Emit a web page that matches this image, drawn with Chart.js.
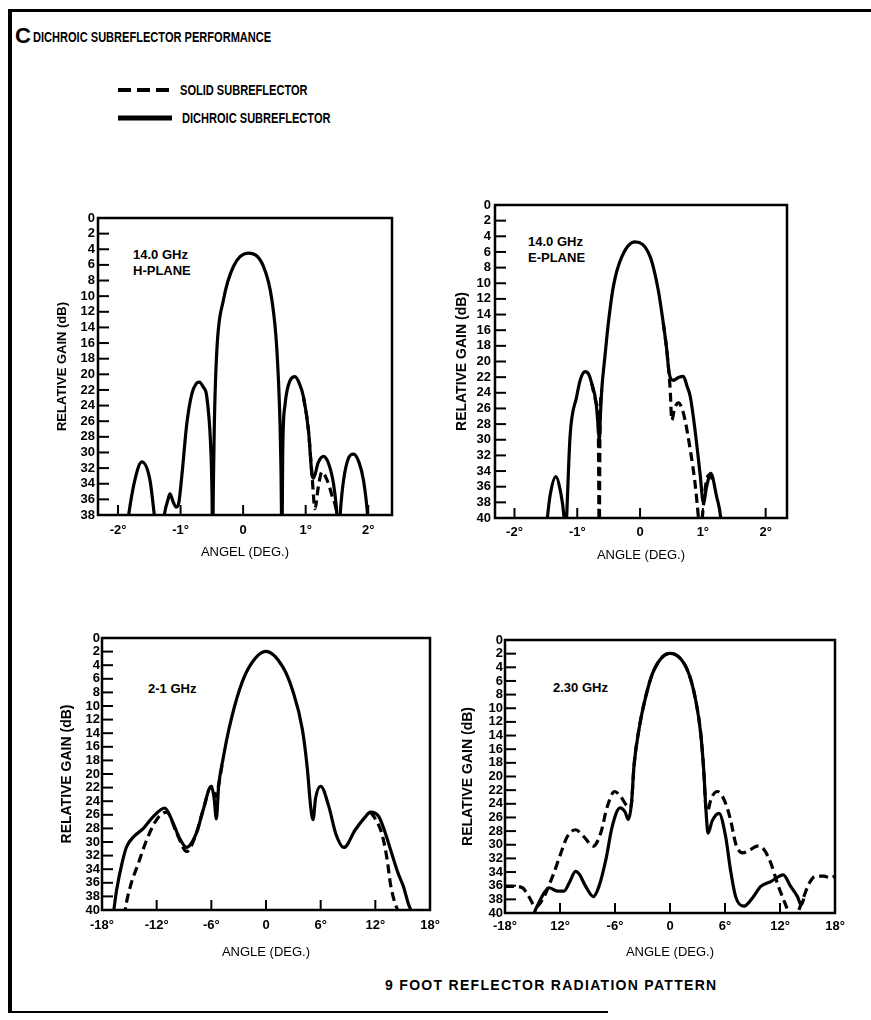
<!DOCTYPE html>
<html>
<head>
<meta charset="utf-8">
<script src="https://cdn.jsdelivr.net/npm/chart.js@4.4.1/dist/chart.umd.min.js"></script>
<style>
  body { margin: 0; background: #fff; }
  #page { position: relative; width: 871px; height: 1020px; overflow: hidden; background: #fff;
          font-family: "Liberation Sans", Arial, sans-serif; color: #000; }
  #page canvas { position: absolute; }
  .txt { position: absolute; white-space: nowrap; font-weight: bold; line-height: 1; transform: translateY(-50%); }
  .narrow { transform-origin: 0 50%; transform: translateY(-50%) scaleX(0.79); }
  .rule { position: absolute; background: #000; }
</style>
</head>
<body>
<div id="page">
  <div class="rule" style="left:8px;top:9px;width:863px;height:3px"></div>
  <div class="rule" style="left:8px;top:9px;width:4px;height:1004px"></div>
  <div class="rule" style="left:8px;top:1011px;width:600px;height:2px"></div>

  <div class="txt" style="left:15px;top:36px;font-size:22px">C</div>
  <div class="txt narrow" style="left:33px;top:37px;font-size:14px">DICHROIC SUBREFLECTOR PERFORMANCE</div>

  <svg style="position:absolute;left:116px;top:80px" width="60" height="45">
    <line x1="2" y1="10" x2="56" y2="10" stroke="#000" stroke-width="4" stroke-dasharray="13 6"/>
    <line x1="2" y1="38" x2="56" y2="38" stroke="#000" stroke-width="5"/>
  </svg>
  <div class="txt narrow" style="left:180px;top:90px;font-size:14px">SOLID SUBREFLECTOR</div>
  <div class="txt narrow" style="left:182px;top:118px;font-size:14px">DICHROIC SUBREFLECTOR</div>

  <div class="txt" style="left:133px;top:254px;font-size:13px">14.0 GHz</div>
  <div class="txt" style="left:133px;top:270px;font-size:13px">H-PLANE</div>
  <div class="txt" style="left:528px;top:241px;font-size:13px">14.0 GHz</div>
  <div class="txt" style="left:528px;top:257px;font-size:13px">E-PLANE</div>
  <div class="txt" style="left:148px;top:688px;font-size:13px">2-1 GHz</div>
  <div class="txt" style="left:553px;top:687px;font-size:13px">2.30 GHz</div>

  <div class="txt" style="left:385px;top:985px;font-size:14px;letter-spacing:1.3px">9 FOOT REFLECTOR RADIATION PATTERN</div>
</div>

<script>
// tick values and labels
const gainTicks38 = [0, 2, 4, 6, 8, 10, 12, 14, 16, 18, 20, 22, 24, 26, 28, 30, 32, 34, 36, 38];
const gainTicks40 = [0, 2, 4, 6, 8, 10, 12, 14, 16, 18, 20, 22, 24, 26, 28, 30, 32, 34, 36, 38, 40];
const narrowTicks = [-2, -1, 0, 1, 2];
const narrowLabels = ["-2°", "-1°", "0", "1°", "2°"];
const wideTicks = [-18, -12, -6, 0, 6, 12, 18];
const wideLabels21 = ["-18°", "-12°", "-6°", "0", "6°", "12°", "18°"];
const wideLabels23 = ["-18°", "12°", "-6°", "0", "6°", "12°", "18°"];

// 14.0 GHz H-plane (angle in deg, relative gain in dB)
const hAngle = [-1.92, -1.83, -1.73, -1.62, -1.49, -1.42, -1.34, -1.26, -1.2, -1.17, -1.12, -1.07, -1.03, -0.98, -0.9, -0.82, -0.75, -0.7, -0.64, -0.58, -0.52, -0.5, -0.487, -0.475, -0.46, -0.42, -0.315, -0.155, 0.08, 0.325, 0.46, 0.54, 0.59, 0.605, 0.62, 0.635, 0.67, 0.75, 0.83, 0.9, 0.965, 1.045, 1.1, 1.125, 1.2, 1.285, 1.37, 1.445, 1.49, 1.525, 1.56, 1.605, 1.68, 1.765, 1.85, 1.925, 1.99, 2.04];
const hDichroic = [44, 38, 33.5, 31.2, 33.5, 38, 44, 38, 36, 35.3, 36.3, 37, 36.5, 33, 26.3, 22.5, 21.2, 21, 21.6, 22.9, 28.9, 34, 41, 34, 26.3, 16.9, 10.5, 6.2, 4.5, 6.2, 10.5, 16.9, 26.3, 32, 41, 29, 23.9, 20.8, 20.3, 21.2, 22.9, 27.2, 32.8, 33.3, 31.3, 30.5, 31.5, 34, 37, 41, 37, 33.6, 30.8, 30.2, 31.2, 33.6, 38, 44];
const hSolidAngle = [0.965, 1.045, 1.1, 1.15, 1.2, 1.26, 1.34, 1.42, 1.5, 1.53];
const hSolid = [22.9, 27.2, 32.8, 37.2, 34.5, 32.5, 33.5, 35.5, 38, 41];

// 14.0 GHz E-plane
const eAngle = [-1.52, -1.476, -1.43, -1.34, -1.27, -1.21, -1.19, -1.17, -1.115, -1.01, -0.95, -0.876, -0.82, -0.77, -0.7, -0.665, -0.648, -0.632, -0.61, -0.56, -0.505, -0.425, -0.29, -0.08, 0.16, 0.29, 0.37, 0.425, 0.46, 0.53, 0.62, 0.69, 0.75, 0.8, 0.876, 0.955, 1.01, 1.06, 1.125, 1.22, 1.285, 1.32];
const eDichroic = [44, 40, 37, 34.7, 36.5, 40, 43, 40, 29.6, 24.5, 22.3, 21.3, 21.6, 22.8, 25.3, 28.5, 30, 27, 23.6, 19.4, 15.1, 10.4, 6.6, 4.7, 6.6, 10.9, 15.1, 18.5, 21.3, 22.4, 22.0, 21.9, 23.2, 24.5, 28.8, 34.3, 38.1, 36, 34.3, 37.3, 40, 44];
const eSolidAngle = [-0.77, -0.7, -0.665, -0.65, -0.638, -0.61, -0.5, 0.37, 0.425, 0.48, 0.505, 0.55, 0.61, 0.69, 0.8, 0.876, 0.93, 0.96, 0.99, 1.06, 1.11, 1.16];
const eSolid = [22.8, 25.3, 28.5, 43, 28, 23.6, null, 15.1, 18.5, 23.6, 27.5, 26, 25.3, 26.6, 31.3, 35.6, 40, 43, 40, 35.1, 34.5, 35.2];

// 2-1 GHz
const w21Angle = [-16.9, -16.7, -16.4, -15.8, -15.3, -14.5, -13.45, -12.4, -11.1, -10.2, -9.5, -8.73, -7.64, -6.9, -6.0, -5.7, -5.45, -5.2, -4.73, -4.0, -2.91, -1.82, 0, 1.82, 2.9, 4.0, 4.55, 4.9, 5.16, 5.45, 6.0, 6.9, 7.64, 8.55, 9.8, 10.9, 11.45, 12.4, 13.1, 13.8, 14.5, 15.1, 15.6, 16.0, 16.3];
const w21Dichroic = [42, 40, 37.1, 33.1, 30.7, 29.2, 28.0, 26.3, 25.0, 27.2, 29.4, 30.8, 28.7, 25.3, 21.8, 23.5, 26.6, 21.8, 17.9, 13.0, 7.6, 4.2, 1.96, 4.2, 7.6, 13.5, 19.4, 24.8, 26.7, 23.5, 21.8, 24.8, 28.7, 30.8, 28.2, 26.3, 25.6, 26.3, 28.7, 31.7, 34.6, 36.6, 39, 40.5, 43];
const w21SolidAngle = [-15.7, -15.45, -14.9, -14.0, -13.1, -12.0, -10.9, -9.8, -8.7, -7.64, -6.9, -6.0, -5.5, -5.2, -4.73, 0, 11.45, 11.9, 12.7, 13.3, 13.65, 14.15, 14.5, 14.8];
const w21Solid = [43, 40, 36.6, 33.1, 29.7, 26.7, 25.6, 28.7, 31.4, 28.7, 25.3, 21.8, 23.3, 21.6, 17.9, null, 25.6, 26.4, 28.7, 32.6, 36.1, 39, 40.3, 43];

// 2.30 GHz
const w23Angle = [-15.1, -14.8, -14.3, -13.75, -13.2, -12.3, -11.56, -11.0, -10.3, -9.9, -9.2, -8.36, -7.75, -7.0, -6.3, -5.45, -4.9, -4.55, -4.2, -3.93, -3.4, -2.65, -1.75, 0, 1.9, 2.8, 3.35, 3.7, 3.9, 4.15, 4.6, 5.35, 6.07, 6.6, 7.16, 8.07, 9.0, 9.9, 11.0, 12.36, 13.16, 13.9, 14.3, 14.6];
const w23Dichroic = [42, 40, 38.5, 37.1, 36.3, 36.8, 36.8, 35.6, 33.9, 34.3, 36.1, 37.6, 36.1, 32.2, 27.3, 24.6, 25.2, 26.3, 23.9, 18.5, 13.2, 8.3, 4.4, 1.95, 4.4, 8.8, 13.7, 19.5, 24.4, 28.3, 26.5, 25.4, 28.8, 33.7, 37.6, 39.0, 37.8, 36.1, 35.4, 34.4, 36.1, 37.6, 38.8, 37.9];
const w23SolidAngle = [-18, -17.0, -16.1, -15.4, -14.65, -13.9, -12.8, -11.9, -11.2, -10.3, -9.4, -8.36, -7.56, -6.84, -6.04, -5.4, -4.65, -4.4, -4.2, -3.93, -3.4, -2.65, -1.75, 0, 1.9, 2.8, 3.35, 3.7, 3.9, 4.07, 4.5, 5.16, 5.9, 6.6, 7.16, 7.9, 8.8, 9.5, 10.25, 11.0, 11.7, 12.25, 12.8, 13.2, 13.6, 14.0, 14.6, 15.2, 15.9, 16.8, 17.5, 18];
const w23Solid = [36.1, 36.1, 36.3, 37.6, 39.1, 38.0, 34.6, 31.2, 28.8, 27.8, 28.8, 30.2, 28.3, 24.4, 22.2, 22.9, 24.4, 24.6, 23.9, 18.5, 13.2, 8.3, 4.4, 1.95, 4.4, 8.8, 13.7, 19.5, 24.4, 25.1, 23.2, 22.2, 23.4, 26.3, 29.8, 31.2, 30.7, 30.2, 30.7, 32.7, 35.6, 37.6, 39.5, 41.5, 41.5, 39.8, 37.6, 35.6, 34.6, 34.6, 34.9, 34.6];

function pts(xs, ys) {
    return xs.map((x, i) => ({ x: x, y: ys[i] }));
}

// inward tick marks and the box round the plot
const framePlugin = {
    id: "frame",
    afterDatasetsDraw(chart) {
        const { ctx, chartArea: a, scales } = chart;
        ctx.save();
        ctx.strokeStyle = "#000";
        ctx.lineWidth = 2;
        scales.y.ticks.forEach((t) => {
            const py = scales.y.getPixelForValue(t.value);
            if (py <= a.top + 1 || py >= a.bottom - 1) return;
            ctx.beginPath();
            ctx.moveTo(a.left, py);
            ctx.lineTo(a.left + 11, py);
            ctx.stroke();
        });
        scales.x.ticks.forEach((t) => {
            const px = scales.x.getPixelForValue(t.value);
            if (px <= a.left + 1 || px >= a.right - 1) return;
            ctx.beginPath();
            ctx.moveTo(px, a.bottom);
            ctx.lineTo(px, a.bottom - 10);
            ctx.stroke();
        });
        ctx.lineWidth = 2.5;
        ctx.strokeRect(a.left, a.top, a.right - a.left, a.bottom - a.top);
        ctx.restore();
    }
};

const panels = [
    { left: 98, top: 218, right: 392, bottom: 515, xMin: -2.32, xMax: 2.38, yMax: 38, yTicks: gainTicks38,
      xTicks: narrowTicks, xLabels: narrowLabels, xTitle: "ANGEL (DEG.)", yTitleX: 63, yTitleSize: 13,
      xTitleY: 552, xTickPad: 8, yTickPad: 3,
      dichroic: pts(hAngle, hDichroic), solid: pts(hSolidAngle, hSolid) },
    { left: 495, top: 205, right: 787, bottom: 518, xMin: -2.31, xMax: 2.34, yMax: 40, yTicks: gainTicks40,
      xTicks: narrowTicks, xLabels: narrowLabels, xTitle: "ANGLE (DEG.)", yTitleX: 462, yTitleSize: 14,
      xTitleY: 555, xTickPad: 7, yTickPad: 4,
      dichroic: pts(eAngle, eDichroic), solid: pts(eSolidAngle, eSolid) },
    { left: 102, top: 638, right: 430, bottom: 910, xMin: -18, xMax: 18, yMax: 40, yTicks: gainTicks40,
      xTicks: wideTicks, xLabels: wideLabels21, xTitle: "ANGLE (DEG.)", yTitleX: 67, yTitleSize: 14,
      xTitleY: 952, xTickPad: 8, yTickPad: 2,
      dichroic: pts(w21Angle, w21Dichroic), solid: pts(w21SolidAngle, w21Solid) },
    { left: 505, top: 640, right: 835, bottom: 913, xMin: -18, xMax: 18, yMax: 40, yTicks: gainTicks40,
      xTicks: wideTicks, xLabels: wideLabels23, xTitle: "ANGLE (DEG.)", yTitleX: 468, yTitleSize: 14,
      xTitleY: 952, xTickPad: 6, yTickPad: 2,
      dichroic: pts(w23Angle, w23Dichroic), solid: pts(w23SolidAngle, w23Solid) }
];

const page = document.getElementById("page");
const tickFont = { family: "Liberation Sans, Arial, sans-serif", size: 13, weight: "bold" };

function makePanel(p) {
    const padT = 16, padR = 26;
    const plotW = p.right - p.left;
    const plotH = p.bottom - p.top;
    const yw = Math.round(p.left - (p.yTitleX - p.yTitleSize * 0.6));
    const xh = Math.round(p.xTitleY - p.bottom + 13 * 0.6);

    const canvas = document.createElement("canvas");
    canvas.width = yw + plotW + padR;
    canvas.height = padT + plotH + xh;
    canvas.style.left = (p.left - yw) + "px";
    canvas.style.top = (p.top - padT) + "px";
    page.appendChild(canvas);

    const lineStyle = {
        borderColor: "#000",
        borderWidth: 3.2,
        pointRadius: 0,
        fill: false,
        tension: 0.4,
        cubicInterpolationMode: "monotone",
        borderJoinStyle: "round"
    };

    const chart = new Chart(canvas, {
        type: "line",
        data: {
            datasets: [
                Object.assign({ label: "DICHROIC SUBREFLECTOR", data: p.dichroic }, lineStyle),
                Object.assign({ label: "SOLID SUBREFLECTOR", data: p.solid, borderDash: [9, 5] }, lineStyle)
            ]
        },
        options: {
            responsive: false,
            animation: false,
            events: [],
            layout: { padding: { top: padT, right: padR, left: 0, bottom: 0 } },
            plugins: { legend: { display: false }, tooltip: { enabled: false } },
            scales: {
                x: {
                    type: "linear",
                    min: p.xMin,
                    max: p.xMax,
                    afterFit: (s) => { s.height = xh; },
                    afterBuildTicks: (s) => { s.ticks = p.xTicks.map((v) => ({ value: v })); },
                    grid: { display: false, drawTicks: false },
                    border: { display: false },
                    ticks: {
                        autoSkip: false, maxRotation: 0, minRotation: 0,
                        padding: p.xTickPad, color: "#000", font: tickFont,
                        callback: (v, i) => p.xLabels[i]
                    },
                    title: {
                        display: true, text: p.xTitle, color: "#000", padding: 0,
                        font: { family: "Liberation Sans, Arial, sans-serif", size: 13 }
                    }
                },
                y: {
                    type: "linear",
                    reverse: true,
                    min: 0,
                    max: p.yMax,
                    afterFit: (s) => { s.width = yw; },
                    afterBuildTicks: (s) => { s.ticks = p.yTicks.map((v) => ({ value: v })); },
                    grid: { display: false, drawTicks: false },
                    border: { display: false },
                    ticks: { autoSkip: false, padding: p.yTickPad, color: "#000", font: tickFont },
                    title: {
                        display: true, text: "RELATIVE GAIN (dB)", color: "#000", padding: 0,
                        font: { family: "Liberation Sans, Arial, sans-serif", size: p.yTitleSize, weight: "bold" }
                    }
                }
            }
        },
        plugins: [framePlugin]
    });

    // line the plot area up with the reference exactly
    const a = chart.chartArea;
    canvas.style.left = (p.left - a.left) + "px";
    canvas.style.top = (p.top - a.top) + "px";
}

panels.forEach(makePanel);
</script>
</body>
</html>
